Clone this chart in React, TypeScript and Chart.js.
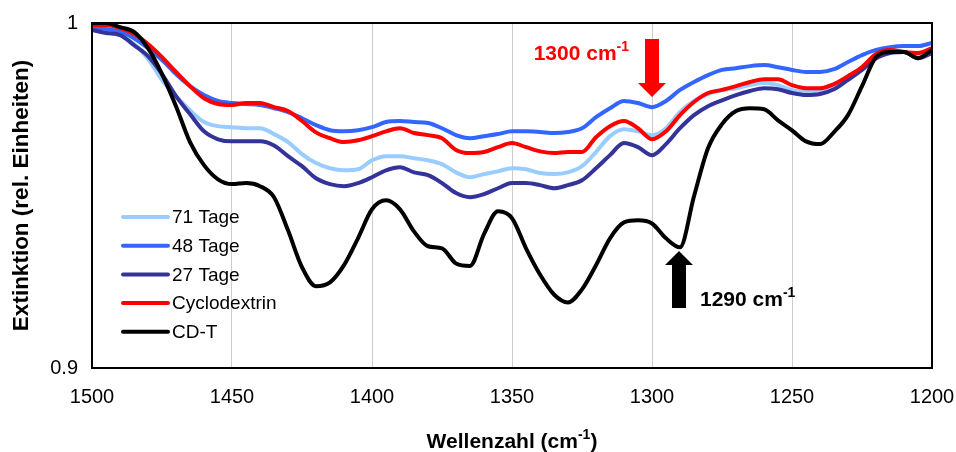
import React, { useEffect, useRef } from "react";
import { Chart, registerables } from "chart.js";

Chart.register(...registerables);

// Wavenumber grid (cm^-1), high to low
const wavenumbers = [
  1500, 1495, 1490, 1485, 1480, 1475, 1470, 1465, 1460, 1455,
  1450, 1445, 1440, 1435, 1430, 1425, 1420, 1415, 1410, 1405,
  1400, 1395, 1390, 1385, 1380, 1375, 1370, 1365, 1360, 1355,
  1350, 1345, 1340, 1335, 1330, 1325, 1320, 1315, 1310, 1305,
  1300, 1295, 1290, 1285, 1280, 1275, 1270, 1265, 1260, 1255,
  1250, 1245, 1240, 1235, 1230, 1225, 1220, 1215, 1210, 1205,
  1200,
];

const tage71 = [
  0.9985, 0.998, 0.9965, 0.9939, 0.9896, 0.9835, 0.9788, 0.9747, 0.9713, 0.9701,
  0.9698, 0.9695, 0.9695, 0.9678, 0.9655, 0.962, 0.9594, 0.9579, 0.9573, 0.9576,
  0.9602, 0.9614, 0.9614, 0.9608, 0.9602, 0.9591, 0.9567, 0.9553, 0.9562, 0.957,
  0.9579, 0.9576, 0.9565, 0.9562, 0.9567, 0.9585, 0.9626, 0.9672, 0.9692, 0.9686,
  0.9675, 0.9695, 0.9742, 0.9774, 0.9794, 0.9806, 0.9811, 0.982, 0.9826, 0.982,
  0.9806, 0.98, 0.9806, 0.9817, 0.984, 0.9869, 0.9898, 0.9913, 0.9916, 0.9904,
  0.9916,
];

const tage48 = [
  0.9985, 0.9983, 0.9974, 0.9956, 0.9927, 0.9893, 0.9852, 0.9817, 0.9791, 0.9774,
  0.9768, 0.9765, 0.9762, 0.9753, 0.9742, 0.9724, 0.9704, 0.9689, 0.9686, 0.9689,
  0.9698, 0.9713, 0.9716, 0.9713, 0.971, 0.9695, 0.9675, 0.9666, 0.9672, 0.9678,
  0.9686, 0.9686, 0.9684, 0.9681, 0.9684, 0.9695, 0.9727, 0.9753, 0.9774, 0.9768,
  0.9756, 0.9774, 0.9806, 0.9829, 0.9849, 0.9864, 0.9869, 0.9875, 0.9878, 0.9872,
  0.9864, 0.9858, 0.9858, 0.9866, 0.9887, 0.9907, 0.9922, 0.993, 0.9933, 0.9933,
  0.9942,
];

const tage27 = [
  0.998, 0.9971, 0.9965, 0.9936, 0.9904, 0.9852, 0.9788, 0.9736, 0.9686, 0.9663,
  0.9657, 0.9657, 0.9657, 0.9645, 0.9614, 0.9585, 0.955, 0.9533, 0.9527, 0.9536,
  0.9553, 0.9573, 0.9582, 0.9567, 0.9559, 0.9536, 0.9507, 0.9495, 0.9504, 0.9521,
  0.9536, 0.9536, 0.953, 0.9521, 0.953, 0.9544, 0.9579, 0.9617, 0.9652, 0.964,
  0.9617, 0.9649, 0.9695, 0.9733, 0.9759, 0.9776, 0.9791, 0.9803, 0.9811, 0.9808,
  0.9797, 0.9791, 0.9794, 0.9808, 0.9835, 0.9864, 0.9898, 0.9913, 0.9916, 0.9898,
  0.9913,
];

const cyclodextrin = [
  0.9994, 0.9994, 0.9985, 0.9968, 0.9939, 0.9901, 0.9858, 0.9817, 0.9782, 0.9765,
  0.9762, 0.9768, 0.9768, 0.9756, 0.9745, 0.9716, 0.9683, 0.9666, 0.9655, 0.966,
  0.9672, 0.9686, 0.9695, 0.9681, 0.9675, 0.9666, 0.9632, 0.9623, 0.9626, 0.964,
  0.9652, 0.964, 0.9628, 0.9623, 0.9626, 0.9626, 0.9669, 0.9701, 0.9716, 0.9695,
  0.9663, 0.9686, 0.9733, 0.9771, 0.9797, 0.9806, 0.9817, 0.9829, 0.9837, 0.9837,
  0.982, 0.9811, 0.9811, 0.9823, 0.9846, 0.9872, 0.991, 0.9922, 0.9916, 0.9913,
  0.9927,
];

const cdT = [
  1.0, 1.0, 0.9988, 0.9974, 0.9927, 0.9852, 0.9759, 0.9655, 0.9588, 0.9547,
  0.9533, 0.9536, 0.9527, 0.9495, 0.9399, 0.9292, 0.9237, 0.9248, 0.9298, 0.9376,
  0.946, 0.9486, 0.946, 0.9396, 0.9353, 0.9347, 0.9303, 0.9296, 0.9388, 0.9454,
  0.9434, 0.9347, 0.9271, 0.9213, 0.919, 0.9228, 0.9298, 0.9376, 0.9422, 0.9428,
  0.9419, 0.9376, 0.935, 0.9498, 0.9637, 0.9707, 0.9745, 0.9753, 0.975, 0.9718,
  0.9689, 0.9657, 0.9649, 0.9684, 0.9733, 0.9817, 0.9901, 0.9916, 0.9916, 0.9898,
  0.9922,
];

const seriesLabels = ["71 Tage", "48 Tage", "27 Tage", "Cyclodextrin", "CD-T"];
const seriesValues = [tage71, tage48, tage27, cyclodextrin, cdT];
const seriesColors = ["#99CCFF", "#3366FF", "#333399", "#FF0000", "#000000"];

const xTitle = "Wellenzahl (cm";
const yTitle = "Extinktion (rel. Einheiten)";
const bandMarked = 1300;
const bandNew = 1290;

const FONT = '"Liberation Sans", Arial, sans-serif';

// Draws text followed by a raised "-1" (cm^-1); returns the end x
function textWithSup(
  ctx: CanvasRenderingContext2D,
  main: string,
  tail: string,
  x: number,
  baseline: number,
  size: number,
  align: "left" | "right" | "center"
) {
  ctx.font = `bold ${size}px ${FONT}`;
  const wMain = ctx.measureText(main).width;
  ctx.font = `bold ${Math.round(size * 0.66)}px ${FONT}`;
  const wSup = ctx.measureText("-1").width;
  ctx.font = `bold ${size}px ${FONT}`;
  const wTail = tail ? ctx.measureText(tail).width : 0;
  const total = wMain + wSup + wTail;
  let start = x;
  if (align === "right") start = x - total;
  if (align === "center") start = x - total / 2;
  ctx.textAlign = "left";
  ctx.textBaseline = "alphabetic";
  ctx.fillText(main, start, baseline);
  ctx.font = `bold ${Math.round(size * 0.66)}px ${FONT}`;
  ctx.fillText("-1", start + wMain, baseline - size * 0.45);
  if (tail) {
    ctx.font = `bold ${size}px ${FONT}`;
    ctx.fillText(tail, start + wMain + wSup, baseline);
  }
  return start + total;
}

const decorations = {
  id: "spectrumDecorations",
  afterDraw(chart: Chart) {
    const ctx = chart.ctx;
    const { left, top, right, bottom } = chart.chartArea;
    const xs = chart.scales.x;
    ctx.save();

    // plot frame
    ctx.strokeStyle = "#000";
    ctx.lineWidth = 2;
    ctx.strokeRect(left, top, right - left, bottom - top);

    // legend inside the plot
    const legX = left + 31;
    const legY = top + 194;
    const rowH = 28.7;
    seriesLabels.forEach((label, i) => {
      const y = legY + i * rowH;
      ctx.strokeStyle = seriesColors[i];
      ctx.lineWidth = 4;
      ctx.lineCap = "round";
      ctx.beginPath();
      ctx.moveTo(legX, y);
      ctx.lineTo(legX + 45, y);
      ctx.stroke();
      ctx.fillStyle = "#000";
      ctx.font = `19px ${FONT}`;
      ctx.textAlign = "left";
      ctx.textBaseline = "middle";
      ctx.fillText(label, legX + 49, y + 1);
    });

    // red arrow marking the 1300 cm-1 band
    const xa = xs.getPixelForValue(bandMarked);
    ctx.fillStyle = "#FF0000";
    ctx.beginPath();
    ctx.moveTo(xa - 7, top + 16);
    ctx.lineTo(xa + 7, top + 16);
    ctx.lineTo(xa + 7, top + 60);
    ctx.lineTo(xa + 14, top + 60);
    ctx.lineTo(xa, top + 74);
    ctx.lineTo(xa - 14, top + 60);
    ctx.lineTo(xa - 7, top + 60);
    ctx.closePath();
    ctx.fill();
    textWithSup(ctx, String(bandMarked) + " cm", "", xa - 23, top + 37, 21, "right");

    // black arrow marking the 1290 cm-1 band
    const xb = xs.getPixelForValue(bandNew) - 1;
    ctx.fillStyle = "#000";
    ctx.beginPath();
    ctx.moveTo(xb, top + 228);
    ctx.lineTo(xb + 14, top + 242);
    ctx.lineTo(xb + 7, top + 242);
    ctx.lineTo(xb + 7, top + 285);
    ctx.lineTo(xb - 7, top + 285);
    ctx.lineTo(xb - 7, top + 242);
    ctx.lineTo(xb - 14, top + 242);
    ctx.closePath();
    ctx.fill();
    textWithSup(ctx, String(bandNew) + " cm", "", xb + 21, top + 283, 21, "left");

    // axis titles
    ctx.fillStyle = "#000";
    textWithSup(ctx, xTitle, ")", (left + right) / 2, 448, 21, "center");

    ctx.translate(22, (top + bottom) / 2);
    ctx.rotate(-Math.PI / 2);
    ctx.font = `bold 22.5px ${FONT}`;
    ctx.textAlign = "center";
    ctx.textBaseline = "middle";
    ctx.fillText(yTitle, 0, 0);

    ctx.restore();
  },
};

export default function App() {
  const canvasRef = useRef<HTMLCanvasElement | null>(null);

  useEffect(() => {
    if (!canvasRef.current) return;
    const datasets = seriesLabels.map((label, i) => ({
      label,
      data: wavenumbers.map((x, j) => ({ x, y: seriesValues[i][j] })),
      borderColor: seriesColors[i],
      backgroundColor: seriesColors[i],
      borderWidth: 4,
      pointRadius: 0,
      fill: false,
      cubicInterpolationMode: "monotone" as const,
      borderJoinStyle: "round" as const,
      borderCapStyle: "round" as const,
      order: seriesLabels.length - i,
    }));

    const chart = new Chart(canvasRef.current, {
      type: "line",
      data: { datasets },
      options: {
        animation: false,
        responsive: true,
        maintainAspectRatio: false,
        layout: { padding: { top: 23, right: 24, left: 0, bottom: 0 } },
        plugins: {
          legend: { display: false },
          tooltip: { enabled: false },
        },
        scales: {
          x: {
            type: "linear",
            reverse: true,
            min: 1200,
            max: 1500,
            afterFit: (s: any) => {
              s.height = 84;
              s.paddingLeft = 0;
              s.paddingRight = 0;
            },
            ticks: {
              stepSize: 50,
              padding: 17,
              color: "#000",
              font: { family: FONT, size: 20 },
              maxRotation: 0,
              callback: (v: any) => String(v),
            },
            grid: { color: "#cccccc", lineWidth: 1, drawTicks: false },
            border: { display: false },
          },
          y: {
            min: 0.9,
            max: 1,
            afterFit: (s: any) => {
              s.width = 92;
              s.paddingTop = 0;
              s.paddingBottom = 0;
            },
            ticks: {
              stepSize: 0.1,
              padding: 14,
              color: "#000",
              font: { family: FONT, size: 20 },
              callback: (v: any) => String(Number(Number(v).toFixed(2))),
            },
            grid: { display: false, drawTicks: false },
            border: { display: false },
          },
        },
      },
      plugins: [decorations],
    });
    return () => chart.destroy();
  }, []);

  return (
    <div style={{ position: "fixed", left: 0, top: 0, width: 956, height: 452, background: "#fff" }}>
      <canvas ref={canvasRef} />
    </div>
  );
}
